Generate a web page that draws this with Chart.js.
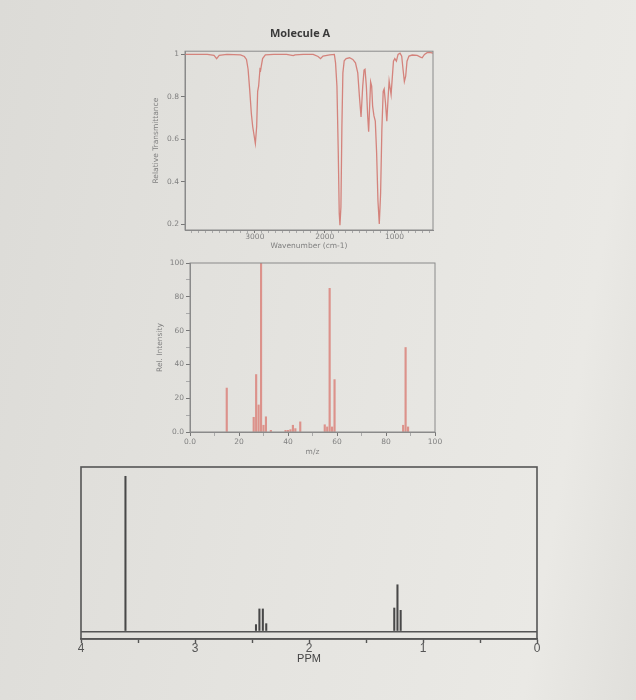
<!DOCTYPE html>
<html><head><meta charset="utf-8">
<script src="https://cdn.jsdelivr.net/npm/chart.js@4.4.1/dist/chart.umd.min.js"></script>
<style>
html,body{margin:0;padding:0;}
body{width:636px;height:700px;position:relative;overflow:hidden;
background:linear-gradient(100deg,#dcdbd7 0%,#e4e3df 45%,#eae9e5 85%,#e0dfdb 100%);}
canvas{position:absolute;}
</style></head><body>
<canvas id="ir" width="360" height="232" style="left:120px;top:20px"></canvas>
<canvas id="ms" width="340" height="208" style="left:120px;top:250px"></canvas>
<canvas id="nmr" width="500" height="211" style="left:60px;top:455px"></canvas>
<script>
// ---------- IR spectrum ----------
const irTitle = 'Molecule A';
const irWavenumber = [4000,3680,3585,3547,3510,3400,3205,3150,3120,3097,3074,3050,3031,3012,2993,2974,2960,2946,2927,2918,2908,2889,2850,2730,2545,2450,2425,2305,2165,2095,2060,2025,1930,1862,1845,1825,1806,1792,1782,1768,1754,1740,1721,1693,1645,1598,1560,1527,1503,1480,1456,1437,1423,1404,1385,1371,1357,1343,1328,1314,1295,1276,1257,1238,1219,1200,1182,1163,1149,1130,1111,1092,1078,1064,1050,1035,1016,997,974,950,922,898,879,860,841,822,794,747,676,629,605,572,534,500,450];
const irTransmittance = [1.0,1.0,0.995,0.98,0.995,1.0,0.998,0.99,0.976,0.93,0.834,0.72,0.66,0.62,0.58,0.66,0.826,0.85,0.93,0.925,0.945,0.98,0.998,1.0,1.0,0.994,0.998,1.0,1.0,0.99,0.98,0.992,0.998,1.0,0.96,0.85,0.535,0.25,0.195,0.28,0.66,0.913,0.97,0.98,0.984,0.976,0.96,0.913,0.80,0.705,0.85,0.926,0.93,0.85,0.71,0.635,0.755,0.87,0.85,0.755,0.71,0.685,0.535,0.31,0.2,0.345,0.645,0.826,0.837,0.77,0.685,0.80,0.874,0.842,0.81,0.88,0.968,0.98,0.968,1.0,1.006,0.992,0.93,0.872,0.897,0.968,0.992,0.997,0.995,0.987,0.984,1.0,1.008,1.01,1.006];
const irYTicks = [0.2,0.4,0.6,0.8,1];
const irXLabels = [1000,2000,3000];

// ---------- Mass spectrum ----------
const msMz =        [15, 26, 27, 28, 29, 30, 31, 33, 39, 40, 41, 42, 43, 45, 55, 56, 57, 58, 59, 87, 88, 89];
const msIntensity = [26, 8.7, 34, 16, 100, 4, 9, 1, 1, 1, 1.4, 4, 2, 6, 4.3, 3, 85, 3, 31, 4, 50, 3];
const msTicks = [0,20,40,60,80,100];

// ---------- 1H NMR ----------
const nmrPpm =       [3.61, 2.465, 2.435, 2.405, 2.375, 1.252, 1.224, 1.196];
const nmrIntensity = [100, 4.3, 14.4, 14.4, 4.9, 15, 30, 13.5];
const nmrTicks = [0,1,2,3,4];

const framePlugin = {
  id: 'frame',
  afterDatasetsDraw(chart, args, opts) {
    const {ctx, chartArea: a} = chart;
    ctx.save();
    ctx.strokeStyle = opts.color; ctx.lineWidth = opts.width;
    ctx.strokeRect(a.left, a.top, a.right - a.left, a.bottom - a.top);
    ctx.restore();
  }
};

const small = {family: 'DejaVu Sans', size: 7.5};
const grey = '#808080';

function range(a, b, s) { const r = []; for (let v = a; v <= b + 1e-9; v += s) r.push(Math.round(v * 1000) / 1000); return r; }

// IR
new Chart(document.getElementById('ir'), {
  type: 'line',
  data: { datasets: [{
    data: irWavenumber.map((w, i) => ({x: w, y: irTransmittance[i]})),
    borderColor: '#d4837c', borderWidth: 1.3, pointRadius: 0, tension: 0, fill: false
  }]},
  plugins: [framePlugin],
  options: {
    responsive: false, animation: false, devicePixelRatio: 1,
    layout: {padding: {top: 7, bottom: 0, left: 0, right: 0}},
    plugins: {
      legend: {display: false}, tooltip: {enabled: false},
      title: {display: true, text: irTitle, color: '#3a3a3a',
        font: {family: 'Open Sans', size: 11, weight: 'bold'}, padding: {top: 0, bottom: 11}},
      frame: {color: '#8a8a8a', width: 1}
    },
    scales: {
      x: {
        type: 'linear', reverse: true, min: 450, max: 4000,
        afterBuildTicks: s => { s.ticks = range(500, 3900, 100).map(v => ({value: v})); },
        afterFit: s => { s.height = 22; },
        ticks: {autoSkip: false, maxRotation: 0, padding: 0, color: grey, font: small,
          callback: v => irXLabels.includes(v) ? String(v) : ''},
        grid: {drawOnChartArea: false, tickLength: 3,
          tickColor: c => irXLabels.includes(c.tick.value) ? '#777' : '#aaa'},
        border: {color: '#8a8a8a'},
        title: {display: true, text: 'Wavenumber (cm-1)', color: grey, font: small, padding: {top: 0, bottom: 1.5}}
      },
      y: {
        type: 'linear', min: 0.172, max: 1.015,
        afterBuildTicks: s => { s.ticks = irYTicks.map(v => ({value: v})); },
        afterFit: s => { s.width = 65; },
        ticks: {padding: 2, color: grey, font: small, callback: v => v === 1 ? '1' : v.toFixed(1)},
        grid: {drawOnChartArea: false, tickLength: 4, tickColor: '#777'},
        border: {color: '#8a8a8a'},
        title: {display: true, text: 'Relative Transmittance', color: grey, font: small, padding: {top: 32, bottom: 0}}
      },
      yR: {
        position: 'right', display: true,
        afterFit: s => { s.width = 47; },
        ticks: {display: false}, grid: {display: false}, border: {display: false}
      }
    }
  }
});

// MS
new Chart(document.getElementById('ms'), {
  type: 'bar',
  data: { datasets: [{
    data: msMz.map((m, i) => ({x: m, y: msIntensity[i]})),
    backgroundColor: '#dc928b', borderWidth: 0, barThickness: 1.5
  }]},
  plugins: [framePlugin],
  options: {
    responsive: false, animation: false, devicePixelRatio: 1,
    layout: {padding: {top: 13, bottom: 0, left: 0, right: 25}},
    plugins: {legend: {display: false}, tooltip: {enabled: false}, frame: {color: '#8a8a8a', width: 1}},
    scales: {
      x: {
        type: 'linear', min: 0, max: 100, offset: false,
        afterBuildTicks: s => { s.ticks = range(0, 100, 10).map(v => ({value: v})); },
        afterFit: s => { s.height = 26; },
        ticks: {autoSkip: false, maxRotation: 0, padding: 2, color: grey, font: small,
          callback: v => msTicks.includes(v) ? (v === 0 ? '0.0' : String(v)) : ''},
        grid: {drawOnChartArea: false, offset: false, tickLength: 4,
          tickColor: c => msTicks.includes(c.tick.value) ? '#777' : '#aaa'},
        border: {color: '#8a8a8a'},
        title: {display: true, text: 'm/z', color: grey, font: small, padding: {top: 0, bottom: 1.2}}
      },
      y: {
        type: 'linear', min: 0, max: 100,
        afterBuildTicks: s => { s.ticks = range(0, 100, 10).map(v => ({value: v})); },
        afterFit: s => { s.width = 70; },
        ticks: {autoSkip: false, padding: 2, color: grey, font: small,
          callback: v => msTicks.includes(v) ? (v === 0 ? '0.0' : String(v)) : ''},
        grid: {drawOnChartArea: false, tickLength: 4,
          tickColor: c => msTicks.includes(c.tick.value) ? '#777' : '#aaa'},
        border: {color: '#8a8a8a'},
        title: {display: true, text: 'Rel. Intensity', color: grey, font: small, padding: {top: 35.5, bottom: 0}}
      }
    }
  }
});

// NMR
new Chart(document.getElementById('nmr'), {
  type: 'bar',
  data: { datasets: [{
    data: nmrPpm.map((p, i) => ({x: p, y: nmrIntensity[i]})),
    backgroundColor: '#484848', borderWidth: 0, barThickness: 1.4
  }]},
  plugins: [framePlugin],
  options: {
    responsive: false, animation: false, devicePixelRatio: 1,
    layout: {padding: {top: 12, bottom: 0, left: 21, right: 23}},
    plugins: {legend: {display: false}, tooltip: {enabled: false}, frame: {color: '#555', width: 1.6}},
    scales: {
      x: {
        type: 'linear', reverse: true, min: 0, max: 4, offset: false,
        afterBuildTicks: s => { s.ticks = range(0, 4, 0.5).map(v => ({value: v})); },
        afterFit: s => { s.height = 27; },
        ticks: {autoSkip: false, maxRotation: 0, padding: -2, color: '#555',
          font: {family: 'Liberation Sans', size: 12},
          callback: v => nmrTicks.includes(v) ? String(v) : ''},
        grid: {drawOnChartArea: false, offset: false, tickLength: 4, tickColor: '#555', tickWidth: 1.4},
        border: {color: '#555', width: 1.6},
        title: {display: true, text: 'PPM', color: '#444',
          font: {family: 'Liberation Sans', size: 11}, padding: {top: 0, bottom: 0.4}}
      },
      y: {
        type: 'linear', min: -5, max: 106,
        afterBuildTicks: s => { s.ticks = [{value: 0}]; },
        afterFit: s => { s.width = 0; },
        ticks: {display: false},
        grid: {drawTicks: false, color: '#555', lineWidth: 1.5},
        border: {display: false}
      }
    }
  }
});
</script>
</body></html>
